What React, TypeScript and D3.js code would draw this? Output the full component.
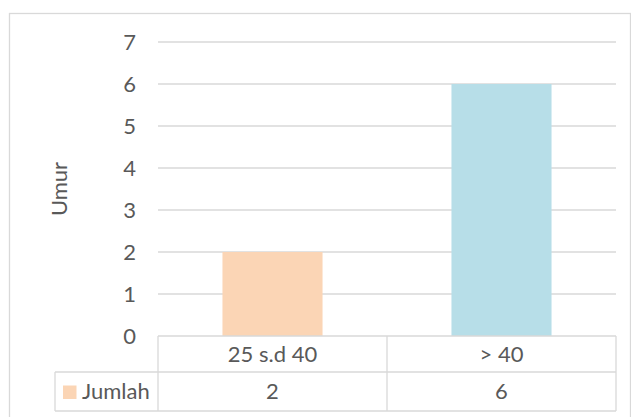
import React, { useEffect, useRef } from "react";
import * as d3 from "d3";

const categories = ["25 s.d 40", "> 40"];
const values = [2, 6];
const barColors = ["#FBD5B5", "#B7DEE8"];
const seriesName = "Jumlah";
const axisTitle = "Umur";
const yTicks = [0, 1, 2, 3, 4, 5, 6, 7];

const W = 631;
const H = 417;
const FONT = "Lato, 'Open Sans', sans-serif";
const FS = 22;
const TEXT = "#595959";
const GRID = "#D9D9D9";

export default function App() {
  const ref = useRef<SVGSVGElement>(null);

  useEffect(() => {
    const svg = d3.select(ref.current);
    svg.selectAll("*").remove();

    const plotLeft = 158, plotRight = 616, plotTop = 42, plotBottom = 336;
    const legendLeft = 55;
    const row1Bottom = 372, row2Bottom = 411;

    const x = d3.scaleBand<string>().domain(categories).range([plotLeft, plotRight]).paddingInner(0.563).paddingOuter(0.2815);
    const y = d3.scaleLinear().domain([0, 7]).range([plotBottom, plotTop]);

    // outer border
    svg.append("rect")
      .attr("x", 9.5).attr("y", 13.5).attr("width", 621).attr("height", 420)
      .attr("fill", "white").attr("stroke", GRID).attr("stroke-width", 1.3);

    // gridlines
    svg.append("g").selectAll("line").data(yTicks.filter(t => t > 0)).join("line")
      .attr("x1", plotLeft).attr("x2", plotRight)
      .attr("y1", d => y(d)).attr("y2", d => y(d))
      .attr("stroke", GRID).attr("stroke-width", 1.3);

    // tick labels
    svg.append("g").selectAll("text").data(yTicks).join("text")
      .attr("x", 136).attr("y", d => y(d)).attr("dy", "0.36em")
      .attr("text-anchor", "end")
      .attr("font-family", FONT).attr("font-size", FS).attr("fill", TEXT)
      .text(d => String(d));

    // axis title
    svg.append("text")
      .attr("transform", `translate(67,${(plotTop + plotBottom) / 2}) rotate(-90)`)
      .attr("text-anchor", "middle")
      .attr("font-family", FONT).attr("font-size", FS).attr("fill", TEXT)
      .text(axisTitle);

    // bars
    svg.append("g").selectAll("rect").data(values).join("rect")
      .attr("x", (_, i) => x(categories[i])!)
      .attr("width", x.bandwidth())
      .attr("y", d => y(d))
      .attr("height", d => y(0) - y(d))
      .attr("fill", (_, i) => barColors[i]);

    // data table
    const tg = svg.append("g").attr("stroke", GRID).attr("stroke-width", 1.3).attr("fill", "none");
    tg.append("line").attr("x1", plotLeft).attr("x2", plotRight).attr("y1", plotBottom).attr("y2", plotBottom);
    tg.append("line").attr("x1", legendLeft).attr("x2", plotRight).attr("y1", row1Bottom).attr("y2", row1Bottom);
    tg.append("line").attr("x1", legendLeft).attr("x2", plotRight).attr("y1", row2Bottom).attr("y2", row2Bottom);
    tg.append("line").attr("x1", legendLeft).attr("x2", legendLeft).attr("y1", row1Bottom).attr("y2", row2Bottom);
    const colEdges = [plotLeft, (plotLeft + plotRight) / 2, plotRight];
    tg.selectAll("line.col").data(colEdges).join("line").attr("class", "col")
      .attr("x1", d => d).attr("x2", d => d).attr("y1", plotBottom).attr("y2", row2Bottom);

    const cx = (c: string) => x(c)! + x.bandwidth() / 2;
    svg.append("g").selectAll("text").data(categories).join("text")
      .attr("x", d => cx(d)).attr("y", (plotBottom + row1Bottom) / 2).attr("dy", "0.36em")
      .attr("text-anchor", "middle")
      .attr("font-family", FONT).attr("font-size", FS).attr("fill", TEXT)
      .text(d => d);
    svg.append("g").selectAll("text").data(values).join("text")
      .attr("x", (_, i) => cx(categories[i])).attr("y", (row1Bottom + row2Bottom) / 2).attr("dy", "0.36em")
      .attr("text-anchor", "middle")
      .attr("font-family", FONT).attr("font-size", FS).attr("fill", TEXT)
      .text(d => String(d));

    // legend key
    svg.append("rect").attr("x", 63).attr("y", 385.5).attr("width", 13.5).attr("height", 13.5).attr("fill", barColors[0]);
    svg.append("text")
      .attr("x", 82).attr("y", (row1Bottom + row2Bottom) / 2).attr("dy", "0.36em")
      .attr("font-family", FONT).attr("font-size", FS).attr("fill", TEXT)
      .text(seriesName);
  }, []);

  return (
    <svg ref={ref} width={W} height={H}
      style={{ position: "absolute", left: 0, top: 0, background: "white" }} />
  );
}
